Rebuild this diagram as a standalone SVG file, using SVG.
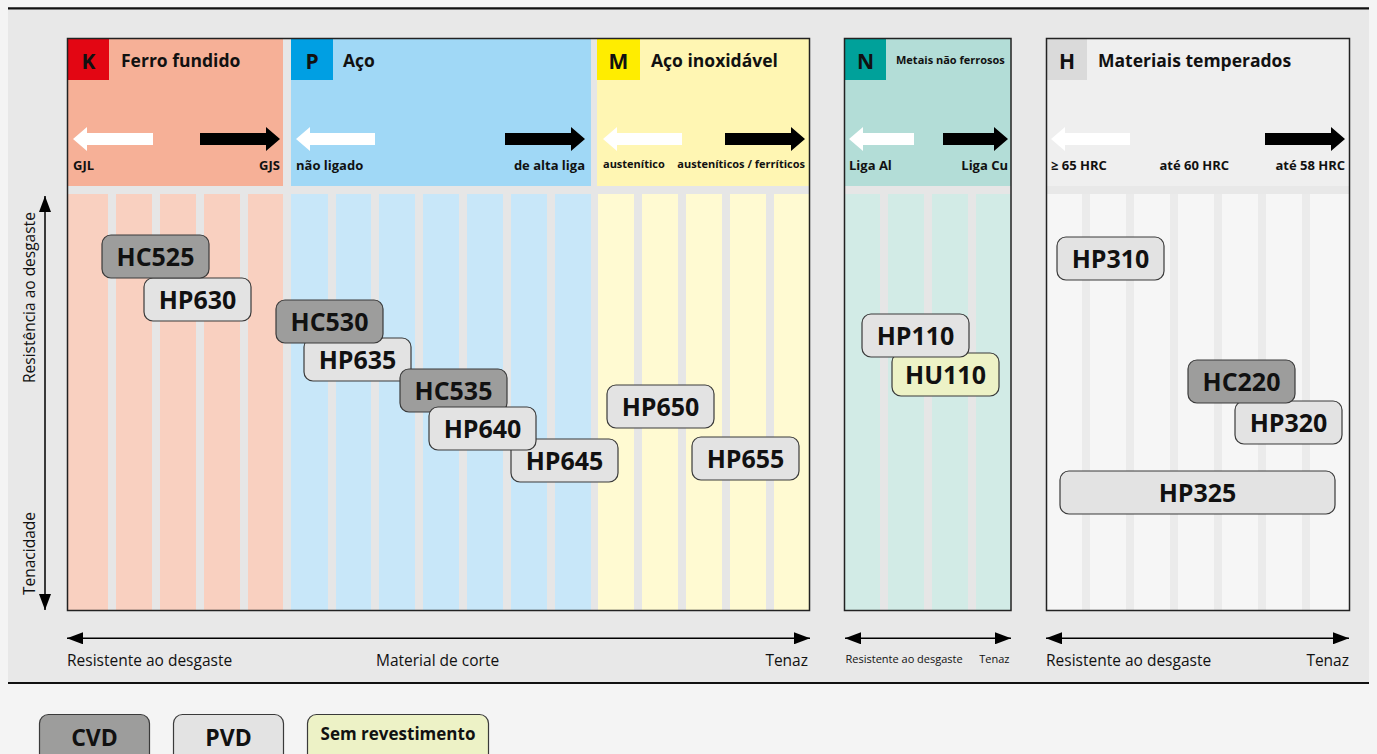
<svg xmlns="http://www.w3.org/2000/svg" width="1377" height="754" viewBox="0 0 1377 754">
<style>
text{font-family:"Open Sans","Noto Sans",sans-serif;fill:#111}
.ttl{font-size:17.5px;font-weight:700}
.ltr{font-size:21px;font-weight:700;text-anchor:middle}
.lab{font-size:13px;font-weight:700}
.lab11{font-size:11px;font-weight:700}
.ax{font-size:15.5px}
.axs{font-size:11px}
.nd{font-size:25px;font-weight:700;text-anchor:middle}
.box{stroke:#3a3a3a;stroke-width:1.2}
.cvd{fill:#9d9d9c}
.pvd{fill:#e3e3e3}
.unc{fill:#edf2c6}
.gap{fill:#e6e6e6}
.frame{fill:none;stroke:#222;stroke-width:1.5}
.wa{fill:#fff}
.ba{fill:#000}
.axl{stroke:#000;stroke-width:1.5;fill:none;marker-start:url(#ah);marker-end:url(#ah)}
.k{fill:#f9d0c0}.p{fill:#c8e7f9}.m{fill:#fffad2}.n{fill:#d2ebe6}.h{fill:#f6f6f6}
</style>
<defs>
<marker id="ah" markerUnits="userSpaceOnUse" markerWidth="16" markerHeight="12" viewBox="0 0 16 12" refX="16" refY="6" orient="auto-start-reverse">
<path d="M0 0 L16 6 L0 12 Z" fill="#000"/>
</marker>
</defs>
<rect x="0" y="0" width="1377" height="754" fill="#f4f4f4"/>
<rect x="8" y="8" width="1361" height="675" fill="#e8e8e8"/>
<line x1="8" y1="8.3" x2="1369" y2="8.3" stroke="#111" stroke-width="2.2"/>
<line x1="8" y1="683" x2="1369" y2="683" stroke="#111" stroke-width="2.2"/>

<g id="section-KPM">
<rect x="68" y="39" width="741" height="571" class="gap"/>
<rect x="68" y="39" width="215" height="147" fill="#f6b097"/>
<rect x="291" y="39" width="300" height="147" fill="#a0d8f6"/>
<rect x="597" y="39" width="212" height="147" fill="#fff6b3"/>
<rect x="68" y="39" width="41" height="41" fill="#e30613"/>
<rect x="291" y="39" width="42" height="41" fill="#009fe3"/>
<rect x="597" y="39" width="43" height="41" fill="#ffed00"/>
<g>
<rect x="68" y="194" width="40" height="416" class="k"/>
<rect x="116" y="194" width="36" height="416" class="k"/>
<rect x="160" y="194" width="36" height="416" class="k"/>
<rect x="204" y="194" width="36" height="416" class="k"/>
<rect x="248" y="194" width="35" height="416" class="k"/>
<rect x="291" y="194" width="37" height="416" class="p"/>
<rect x="336" y="194" width="35" height="416" class="p"/>
<rect x="379" y="194" width="36" height="416" class="p"/>
<rect x="423" y="194" width="36" height="416" class="p"/>
<rect x="467" y="194" width="36" height="416" class="p"/>
<rect x="511" y="194" width="36" height="416" class="p"/>
<rect x="555" y="194" width="36" height="416" class="p"/>
<rect x="598" y="194" width="36" height="416" class="m"/>
<rect x="642" y="194" width="36" height="416" class="m"/>
<rect x="686" y="194" width="36" height="416" class="m"/>
<rect x="730" y="194" width="36" height="416" class="m"/>
<rect x="774" y="194" width="35" height="416" class="m"/>
</g>
<rect x="67.5" y="38.5" width="742" height="572" class="frame"/>
<text x="88.5" y="68.5" class="ltr">K</text>
<text x="121" y="66.7" class="ttl">Ferro fundido</text>
<text x="312" y="68.5" class="ltr">P</text>
<text x="343" y="66.7" class="ttl">Aço</text>
<text x="618.5" y="68.5" class="ltr">M</text>
<text x="651" y="66.7" class="ttl">Aço inoxidável</text>
<path class="wa" d="M73 139 L87 127 L87 133 L153 133 L153 145 L87 145 L87 151 Z"/>
<path class="ba" d="M200 133 L266 133 L266 127 L280 139 L266 151 L266 145 L200 145 Z"/>
<path class="wa" d="M296 139 L310 127 L310 133 L375 133 L375 145 L310 145 L310 151 Z"/>
<path class="ba" d="M505 133 L571 133 L571 127 L585 139 L571 151 L571 145 L505 145 Z"/>
<path class="wa" d="M603 139 L617 127 L617 133 L682 133 L682 145 L617 145 L617 151 Z"/>
<path class="ba" d="M725 133 L791 133 L791 127 L805 139 L791 151 L791 145 L725 145 Z"/>
<text x="73" y="169.5" class="lab">GJL</text>
<text x="280" y="169.5" class="lab" text-anchor="end">GJS</text>
<text x="296" y="169.5" class="lab">não ligado</text>
<text x="585" y="169.5" class="lab" text-anchor="end">de alta liga</text>
<text x="603" y="168" class="lab11">austenítico</text>
<text x="805" y="168" class="lab11" text-anchor="end">austeníticos / ferríticos</text>
</g>

<g id="section-N">
<rect x="845" y="39" width="166" height="571" class="gap"/>
<rect x="845" y="39" width="166" height="147" fill="#b3ddd7"/>
<rect x="845" y="39" width="41" height="41" fill="#00a19a"/>
<rect x="845" y="194" width="35" height="416" class="n"/>
<rect x="888" y="194" width="36" height="416" class="n"/>
<rect x="932" y="194" width="36" height="416" class="n"/>
<rect x="976" y="194" width="35" height="416" class="n"/>
<rect x="844.5" y="38.5" width="166.5" height="572" class="frame"/>
<text x="865.5" y="68.5" class="ltr">N</text>
<text x="896" y="64.3" class="lab11">Metais não ferrosos</text>
<path class="wa" d="M849 139 L863 127 L863 133 L914 133 L914 145 L863 145 L863 151 Z"/>
<path class="ba" d="M943 133 L994 133 L994 127 L1008 139 L994 151 L994 145 L943 145 Z"/>
<text x="849" y="170" class="lab">Liga Al</text>
<text x="1008" y="170" class="lab" text-anchor="end">Liga Cu</text>
</g>

<g id="section-H">
<rect x="1047" y="39" width="302" height="571" fill="#ebebeb"/>
<rect x="1047" y="39" width="302" height="147" fill="#efefef"/>
<rect x="1047" y="186" width="302" height="8" fill="#e8e8e8"/>
<rect x="1047" y="39" width="40" height="41" fill="#dadada"/>
<rect x="1047" y="194" width="35" height="416" class="h"/>
<rect x="1090" y="194" width="36" height="416" class="h"/>
<rect x="1134" y="194" width="36" height="416" class="h"/>
<rect x="1178" y="194" width="36" height="416" class="h"/>
<rect x="1222" y="194" width="36" height="416" class="h"/>
<rect x="1266" y="194" width="36" height="416" class="h"/>
<rect x="1310" y="194" width="39" height="416" class="h"/>
<rect x="1046.5" y="38.5" width="303" height="572" class="frame"/>
<text x="1067" y="68.5" class="ltr">H</text>
<text x="1098" y="66.7" class="ttl">Materiais temperados</text>
<path class="wa" d="M1051 139 L1065 127 L1065 133 L1130 133 L1130 145 L1065 145 L1065 151 Z"/>
<path class="ba" d="M1265 133 L1331 133 L1331 127 L1345 139 L1331 151 L1331 145 L1265 145 Z"/>
<text x="1051" y="170" class="lab">≥ 65 HRC</text>
<text x="1159.5" y="170" class="lab">até 60 HRC</text>
<text x="1345" y="170" class="lab" text-anchor="end">até 58 HRC</text>
</g>

<g id="connectors">
<line x1="45" y1="196" x2="45" y2="610" class="axl"/>
<line x1="67" y1="638.3" x2="810" y2="638.3" class="axl"/>
<line x1="845" y1="638.3" x2="1011" y2="638.3" class="axl"/>
<line x1="1046" y1="638.3" x2="1349" y2="638.3" class="axl"/>
</g>

<g id="axis-labels">
<text class="ax" transform="translate(35,383) rotate(-90)">Resistência ao desgaste</text>
<text class="ax" transform="translate(35,595) rotate(-90)">Tenacidade</text>
<text x="67" y="666" class="ax">Resistente ao desgaste</text>
<text x="376" y="666" class="ax">Material de corte</text>
<text x="808" y="666" class="ax" text-anchor="end">Tenaz</text>
<text x="845.5" y="663" class="axs">Resistente ao desgaste</text>
<text x="1009.5" y="663" class="axs" text-anchor="end">Tenaz</text>
<text x="1046" y="666" class="ax">Resistente ao desgaste</text>
<text x="1349" y="666" class="ax" text-anchor="end">Tenaz</text>
</g>

<g id="HP630"><rect x="144" y="278" width="107" height="43" rx="9" class="box pvd"/><text x="197.5" y="308.5" class="nd">HP630</text></g>
<g id="HC525"><rect x="102" y="235" width="107" height="43" rx="9" class="box cvd"/><text x="155.5" y="265.5" class="nd">HC525</text></g>
<g id="HP635"><rect x="304" y="338" width="107" height="43" rx="9" class="box pvd"/><text x="357.5" y="368.5" class="nd">HP635</text></g>
<g id="HC530"><rect x="276" y="300" width="107" height="43" rx="9" class="box cvd"/><text x="329.5" y="330.5" class="nd">HC530</text></g>
<g id="HC535"><rect x="400" y="369" width="107" height="43" rx="9" class="box cvd"/><text x="453.5" y="399.5" class="nd">HC535</text></g>
<g id="HP645"><rect x="511" y="439" width="107" height="43" rx="9" class="box pvd"/><text x="564.5" y="469.5" class="nd">HP645</text></g>
<g id="HP640"><rect x="429" y="407" width="107" height="43" rx="9" class="box pvd"/><text x="482.5" y="437.5" class="nd">HP640</text></g>
<g id="HP650"><rect x="607" y="385" width="107" height="43" rx="9" class="box pvd"/><text x="660.5" y="415.5" class="nd">HP650</text></g>
<g id="HP655"><rect x="692" y="437" width="107" height="43" rx="9" class="box pvd"/><text x="745.5" y="467.5" class="nd">HP655</text></g>
<g id="HU110"><rect x="892" y="353" width="107" height="43" rx="9" class="box unc"/><text x="945.5" y="383.5" class="nd">HU110</text></g>
<g id="HP110"><rect x="862" y="314" width="107" height="43" rx="9" class="box pvd"/><text x="915.5" y="344.5" class="nd">HP110</text></g>
<g id="HP310"><rect x="1057" y="237" width="107" height="43" rx="9" class="box pvd"/><text x="1110.5" y="267.5" class="nd">HP310</text></g>
<g id="HP320"><rect x="1235" y="401" width="107" height="43" rx="9" class="box pvd"/><text x="1288.5" y="431.5" class="nd">HP320</text></g>
<g id="HC220"><rect x="1188" y="360" width="107" height="43" rx="9" class="box cvd"/><text x="1241.5" y="390.5" class="nd">HC220</text></g>
<g id="HP325"><rect x="1060" y="471" width="275" height="43" rx="9" class="box pvd"/><text x="1197.5" y="501.5" class="nd">HP325</text></g>

<g id="legend-CVD"><rect x="39.5" y="714.5" width="110" height="50" rx="9" class="box cvd"/><text x="94.5" y="746" class="nd" style="font-size:23px">CVD</text></g>
<g id="legend-PVD"><rect x="173.5" y="714.5" width="110" height="50" rx="9" class="box pvd"/><text x="228.5" y="746" class="nd" style="font-size:23px">PVD</text></g>
<g id="legend-uncoated"><rect x="307.5" y="714.5" width="181" height="50" rx="9" class="box unc"/><text x="398" y="740" class="nd" style="font-size:17px">Sem revestimento</text></g>
</svg>
